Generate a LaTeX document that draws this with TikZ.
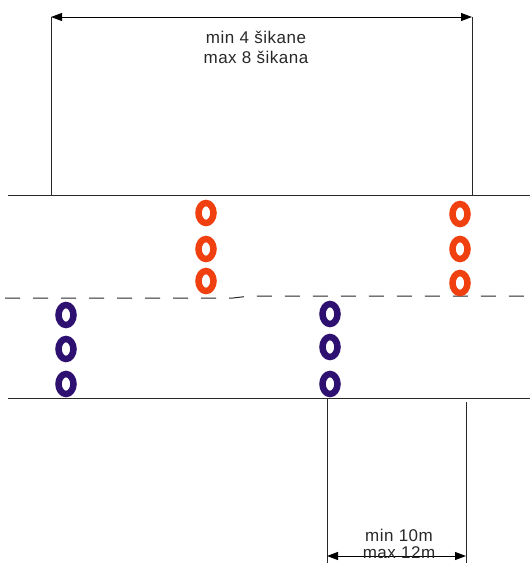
\documentclass[tikz,border=0pt]{standalone}
\usepackage{fontspec}
\setmainfont{Liberation Sans}[LetterSpace=3]
\usetikzlibrary{arrows.meta,shapes.geometric}
\definecolor{ringred}{RGB}{240,64,16}
\definecolor{ringblue}{RGB}{46,16,112}
\definecolor{linegray}{RGB}{40,40,40}
\tikzset{
  x=1pt,y=-1pt,
  road/.style={line width=1pt,draw=linegray},
  ext/.style={line width=1pt,draw=linegray},
  dim/.style={line width=1pt,draw=black,{Triangle[length=11pt,width=8pt]}-{Triangle[length=11pt,width=8pt]}},
  ring/.style={ellipse,draw=#1,line width=6.5pt,minimum width=15pt,minimum height=20pt,inner sep=0pt,fill=white},
  lbl/.style={text=linegray,font=\fontsize{17}{20}\selectfont,align=center,inner sep=0pt},
}
\begin{document}
\begin{tikzpicture}
\useasboundingbox (0,0) rectangle (530,565);
% extension coordinates
\coordinate (tl) at (51,17);
\coordinate (tr) at (472,17);
\coordinate (tlb) at (51,195);
\coordinate (trb) at (472,195);
\coordinate (bl) at (327,398);
\coordinate (br) at (466,402);
\coordinate (bla) at (327,563);
\coordinate (bra) at (466,563);
\coordinate (bld) at (327,556);
\coordinate (brd) at (466,556);
% road lines
\coordinate (r1a) at (8,195); \coordinate (r1b) at (530,195);
\coordinate (r2a) at (8,398); \coordinate (r2b) at (530,398);
\coordinate (d1) at (5,298); \coordinate (d2) at (233,298);
\coordinate (d3) at (250,296); \coordinate (d4) at (530,296);
\draw[road] (r1a) -- (r1b);
\draw[road] (r2a) -- (r2b);
\draw[road,dash pattern=on 15pt off 13pt] (d1) -- (d2) -- (d3) -- (d4);
% extension lines
\draw[ext] (tl) -- (tlb);
\draw[ext] (tr) -- (trb);
\draw[ext] (bl) -- (bla);
\draw[ext] (br) -- (bra);
% dimensions
\draw[dim] (tl) -- (tr);
\draw[dim] (bld) -- (brd);
\node[lbl] (t1) at (256,47) {min 4 šikane\\max 8 šikana};
\node[lbl,font=\fontsize{17}{17}\selectfont] (t2) at (399,544) {min 10m\\max 12m};
% rings
\node[ring=ringred] (ra1) at (206,213) {};
\node[ring=ringred] (ra2) at (206,249) {};
\node[ring=ringred] (ra3) at (206,281) {};
\node[ring=ringred] (rb1) at (460,214) {};
\node[ring=ringred] (rb2) at (460,249) {};
\node[ring=ringred] (rb3) at (460,283) {};
\node[ring=ringblue] (ba1) at (66,315) {};
\node[ring=ringblue] (ba2) at (66,349) {};
\node[ring=ringblue] (ba3) at (66,384) {};
\node[ring=ringblue] (bb1) at (330,314) {};
\node[ring=ringblue] (bb2) at (330,347) {};
\node[ring=ringblue] (bb3) at (330,384) {};
\end{tikzpicture}
\end{document}
